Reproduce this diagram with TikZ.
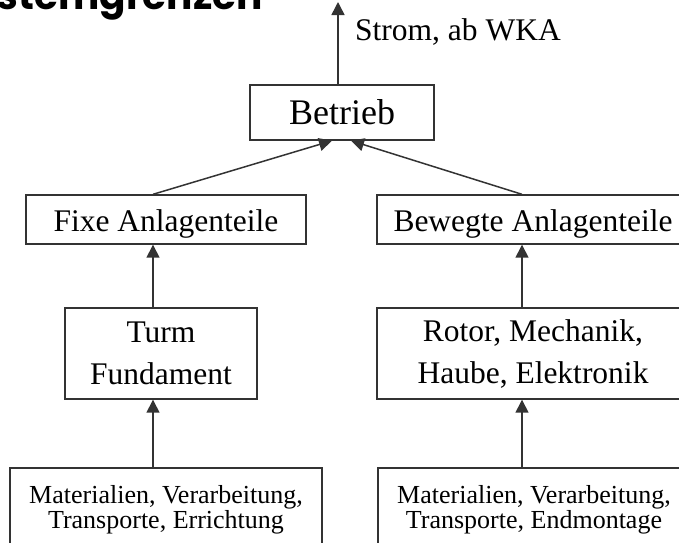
\documentclass[tikz,border=0pt]{standalone}
\usepackage{fontspec}
\setmainfont{Liberation Serif}
\newfontfamily\titlefont{Poppins}
\usetikzlibrary{arrows.meta}
\definecolor{linegray}{HTML}{333333}
\begin{document}
\begin{tikzpicture}[x=1pt,y=-1pt,
  box/.style={draw=linegray, line width=1.4pt, inner sep=0pt, align=center},
  big/.style={font=\fontsize{36}{40}\selectfont},
  mid/.style={font=\fontsize{31.5}{42}\selectfont},
  small/.style={font=\fontsize{26}{24.5}\selectfont},
  conn/.style={draw=linegray, line width=1.5pt, -{Triangle[width=13pt,length=13pt]}},
]
\useasboundingbox (0,0) rectangle (679,542);
\clip (0,0) rectangle (679,542);

\node[anchor=base east, inner sep=0pt, font=\titlefont\bfseries\fontsize{39}{44}\selectfont] (title) at (263,9) {Systemgrenzen};

\node[box, big, minimum width=184pt, minimum height=55pt] (betrieb) at (342,112.5) {Betrieb};
\node[box, mid, minimum width=280pt, minimum height=49pt, text depth=0pt] (fixe) at (166,219.5) {\raisebox{-2pt}{Fixe Anlagenteile}};
\node[box, mid, minimum width=312pt, minimum height=49pt, text depth=0pt] (bewegte) at (533,219.5) {\raisebox{-2pt}{Bewegte Anlagenteile}};
\node[box, mid, minimum width=192pt, minimum height=91pt] (turm) at (161,353.5) {Turm\\Fundament};
\node[box, mid, minimum width=312pt, minimum height=91pt] (rotor) at (533,353.5) {Rotor, Mechanik,\\Haube, Elektronik};
\node[box, small, minimum width=312pt, minimum height=84pt] (matl) at (166,510) {Materialien, Verarbeitung,\\Transporte, Errichtung};
\node[box, small, minimum width=312pt, minimum height=84pt] (matr) at (534,510) {Materialien, Verarbeitung,\\Transporte, Endmontage};

\node[anchor=base west, inner sep=0pt, mid] (strom) at (355,40) {Strom, ab WKA};
\coordinate (out) at (338,2);

\draw[conn] ([xshift=-4pt]betrieb.north) -- (out);
\draw[conn] ([xshift=-13pt]fixe.north) -- ([xshift=-10pt]betrieb.south);
\draw[conn] ([xshift=-11pt]bewegte.north) -- ([xshift=9pt]betrieb.south);
\draw[conn] ([xshift=-8pt]turm.north) -- ([xshift=-13pt]fixe.south);
\draw[conn] ([xshift=-11pt]rotor.north) -- ([xshift=-11pt]bewegte.south);
\draw[conn] ([xshift=-13pt]matl.north) -- ([xshift=-8pt]turm.south);
\draw[conn] ([xshift=-12pt]matr.north) -- ([xshift=-11pt]rotor.south);
\end{tikzpicture}
\end{document}
